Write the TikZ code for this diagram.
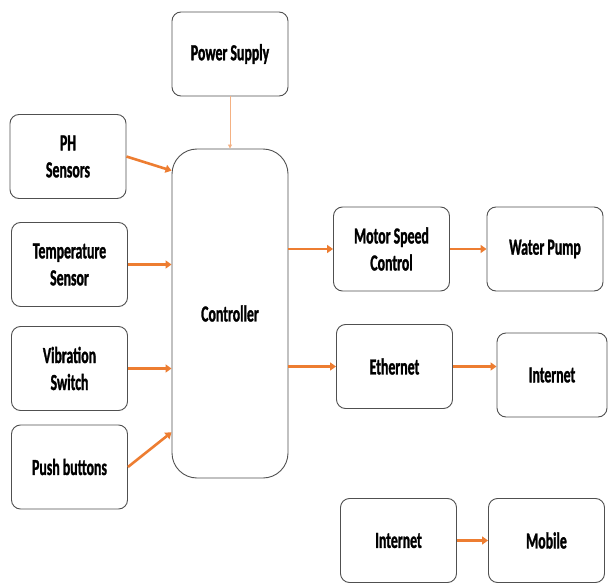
\documentclass[tikz,border=0pt]{standalone}
\usepackage{fontspec}
\setmainfont{Carlito}[FakeStretch=0.6,BoldFeatures={FakeBold=1.2}]
\usetikzlibrary{calc,arrows.meta}
\definecolor{arrorange}{HTML}{ED7D31}
\definecolor{lightorange}{HTML}{F4B183}
\definecolor{boxgray}{HTML}{505050}

\begin{document}
\begin{tikzpicture}[x=1pt,y=-1pt,
		blk/.style={draw=boxgray,line width=0.9pt,rounded corners=9pt,minimum width=116pt,minimum height=84pt,inner sep=2pt,align=center,font=\fontsize{23}{27}\selectfont\bfseries},
		link/.style={draw=arrorange,line width=2.6pt,-{Triangle[length=6pt,width=8pt]}}]
				\useasboundingbox (0,0) rectangle (608,583);
				
				\node[blk] (PS) at (230,54) {Power Supply};
				\node[blk,minimum height=329pt,rounded corners=25pt] (C) at (230,313.5) {Controller};
				\node[blk] (PH) at (68,156.5) {PH\\Sensors};
				\node[blk] (T) at (69.5,264.5) {Temperature\\Sensor};
				\node[blk] (V) at (69.5,368.5) {Vibration\\Switch};
				\node[blk] (PB) at (69.5,467) {Push buttons};
				\node[blk] (MS) at (391.5,249) {Motor Speed\\Control};
				\node[blk] (WP) at (545,249) {Water Pump};
				\node[blk] (E) at (394.5,366.5) {Ethernet};
				\node[blk,minimum width=110pt] (I) at (552,375) {Internet};
				\node[blk] (IM) at (398.5,540.5) {Internet};
				\node[blk] (M) at (546.5,540.5) {Mobile};
				
				\draw[draw=lightorange,line width=0.9pt,-{Triangle[length=4pt,width=4pt]}] (PS) -- (C);
				\draw[link] (PH.east) -- ($(C.north west)!0.067!(C.south west)$);
				\draw[link] (T.east) -- (T.east -| C.west);
				\draw[link] (V.east) -- (V.east -| C.west);
				\draw[link] (PB.east) -- ($(C.north west)!0.86!(C.south west)$);
				\draw[link] (MS.west -| C.east) -- (MS.west);
				\draw[link] (MS) -- (WP);
				\draw[link] (E.west -| C.east) -- (E.west);
				\draw[link] (E.east) -- (E.east -| I.west);
				\draw[link] (IM) -- (M);
			\end{tikzpicture}
\end{document}
